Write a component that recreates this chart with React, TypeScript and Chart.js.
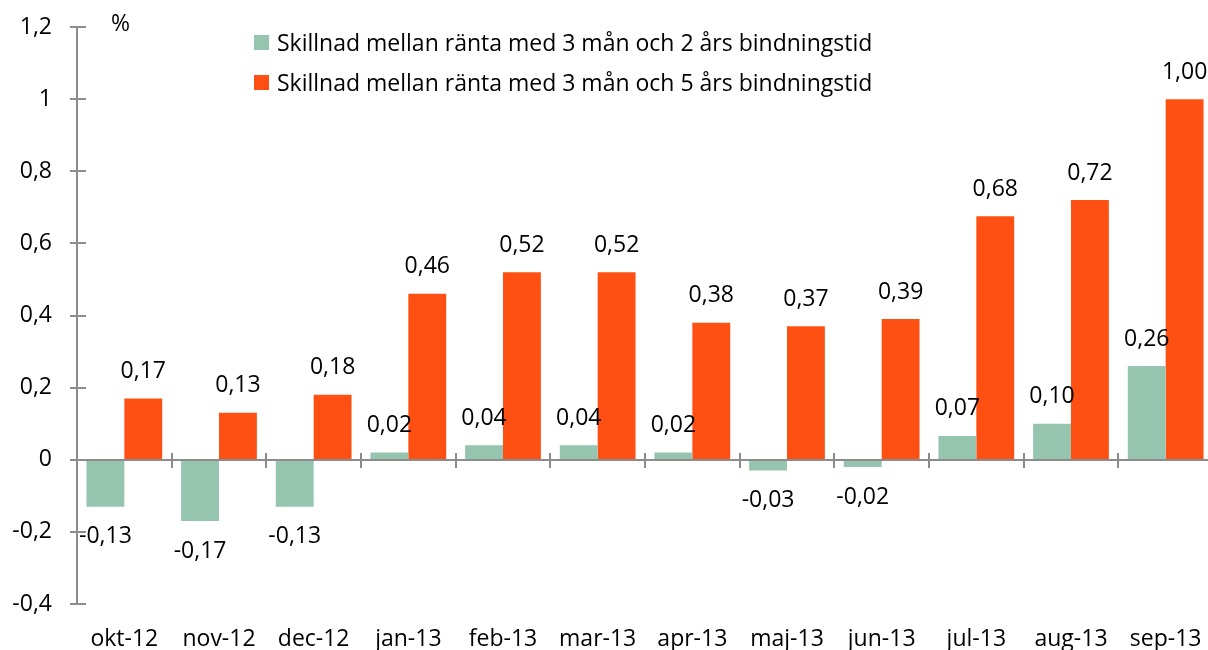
import React, { useEffect, useRef } from "react";
import { Chart, registerables } from "chart.js";

Chart.register(...registerables);

const categories = ["okt-12", "nov-12", "dec-12", "jan-13", "feb-13", "mar-13", "apr-13", "maj-13", "jun-13", "jul-13", "aug-13", "sep-13"];
const series2yr = [-0.13, -0.17, -0.13, 0.02, 0.04, 0.04, 0.02, -0.03, -0.02, 0.066, 0.1, 0.26];
const series5yr = [0.17, 0.13, 0.18, 0.46, 0.52, 0.52, 0.38, 0.37, 0.39, 0.675, 0.72, 1.0];
const seriesNames = [
  "Skillnad mellan ränta med 3 mån och 2 års bindningstid",
  "Skillnad mellan ränta med 3 mån och 5 års bindningstid",
];
const yTicks = [-0.4, -0.2, 0, 0.2, 0.4, 0.6, 0.8, 1, 1.2];

const GREEN = "#95C4AF";
const ORANGE = "#FF5014";
const AXIS = "#8C8C8C";
const FONT = "'Open Sans', sans-serif";
const FS = 23;

const fmt = (v: number, d: number) => v.toFixed(d).replace(".", ",");

const axisPlugin = {
  id: "customAxes",
  afterDatasetsDraw(chart: any) {
    const { ctx, chartArea } = chart;
    const y = chart.scales.y;
    const x = chart.scales.x;
    ctx.save();
    ctx.strokeStyle = AXIS;
    ctx.lineWidth = 2;
    ctx.beginPath();
    ctx.moveTo(chartArea.left, chartArea.top);
    ctx.lineTo(chartArea.left, chartArea.bottom);
    ctx.stroke();
    yTicks.forEach((t) => {
      const py = Math.round(y.getPixelForValue(t));
      ctx.beginPath();
      ctx.moveTo(chartArea.left - 7, py);
      ctx.lineTo(chartArea.left + 9, py);
      ctx.stroke();
    });
    const zy = Math.round(y.getPixelForValue(0));
    ctx.beginPath();
    ctx.moveTo(chartArea.left, zy);
    ctx.lineTo(chartArea.right, zy);
    ctx.stroke();
    const n = categories.length;
    for (let i = 1; i < n; i++) {
      const px = Math.round((x.getPixelForValue(i - 1) + x.getPixelForValue(i)) / 2);
      ctx.beginPath();
      ctx.moveTo(px, zy - 7);
      ctx.lineTo(px, zy + 8);
      ctx.stroke();
    }
    ctx.fillStyle = "#000";
    ctx.font = `${FS}px ${FONT}`;
    ctx.textAlign = "center";
    ctx.textBaseline = "middle";
    chart.data.datasets.forEach((ds: any, di: number) => {
      const meta = chart.getDatasetMeta(di);
      meta.data.forEach((bar: any, i: number) => {
        const v = ds.data[i];
        const ly = v >= 0 ? bar.y - 27 : bar.y + 30;
        ctx.fillText(fmt(v, 2), bar.x, ly);
      });
    });
    ctx.restore();
  },
};

export default function App() {
  const ref = useRef<HTMLCanvasElement | null>(null);
  useEffect(() => {
    if (!ref.current) return;
    const chart = new Chart(ref.current, {
      type: "bar",
      data: {
        labels: categories,
        datasets: [
          { label: seriesNames[0], data: series2yr, backgroundColor: GREEN, xAxisID: "x", categoryPercentage: 0.8, barPercentage: 1.0 },
          { label: seriesNames[1], data: series5yr, backgroundColor: ORANGE, xAxisID: "x", categoryPercentage: 0.8, barPercentage: 1.0 },
        ],
      },
      options: {
        animation: false,
        responsive: false,
        maintainAspectRatio: false,
        layout: { padding: { top: 27, right: 3, left: 0, bottom: 0 } },
        plugins: { legend: { display: false }, tooltip: { enabled: false } },
        scales: {
          x: { type: "category", display: false, offset: true },
          x2: {
            type: "category",
            position: "bottom",
            labels: categories,
            offset: true,
            grid: { display: false },
            border: { display: false },
            ticks: { color: "#000", font: { family: FONT, size: FS }, padding: 14, maxRotation: 0, autoSkip: false },
            afterFit: (s: any) => { s.height = 46; s.paddingLeft = 0; s.paddingRight = 0; },
          },
          y: {
            min: -0.4,
            max: 1.2,
            afterBuildTicks: (s: any) => { s.ticks = yTicks.map((v) => ({ value: v })); },
            grid: { display: false },
            border: { display: false },
            ticks: {
              color: "#000",
              font: { family: FONT, size: FS },
              padding: 17,
              callback: (v: any) => (Number.isInteger(v) ? String(v) : fmt(Number(v), 1)),
            },
            afterFit: (s: any) => { s.width = 77; s.paddingTop = 0; s.paddingBottom = 0; },
          },
        },
      },
      plugins: [axisPlugin],
    });
    return () => chart.destroy();
  }, []);

  const legendRow = (color: string, text: string, top: number) => (
    <div style={{ position: "absolute", left: 254, top, display: "flex", alignItems: "center", height: 20 }}>
      <div style={{ width: 15, height: 15, background: color, marginRight: 8 }} />
      <span style={{ font: `${FS}px ${FONT}`, color: "#000", whiteSpace: "nowrap" }}>{text}</span>
    </div>
  );

  return (
    <div style={{ position: "fixed", left: 0, top: 0, width: 1216, height: 650, background: "#fff", overflow: "hidden" }}>
      <canvas ref={ref} width={1216} height={650} style={{ display: "block" }} />
      <div style={{ position: "absolute", left: 111, top: 6, font: `${FS}px ${FONT}`, color: "#000" }}>%</div>
      {legendRow(GREEN, seriesNames[0], 32)}
      {legendRow(ORANGE, seriesNames[1], 72)}
    </div>
  );
}
